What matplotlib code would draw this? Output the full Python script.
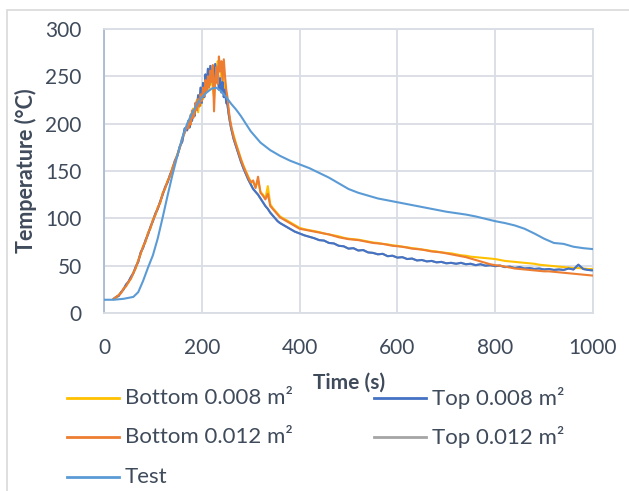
import matplotlib
matplotlib.use("Agg")
import matplotlib.pyplot as plt
from matplotlib.lines import Line2D
from matplotlib.patches import Rectangle

# ---- data -------------------------------------------------------------
# sampling times of the four probe traces (s): coarse rise, dense peak, then tail
probe_time = (list(range(20, 175, 5))
              + [172.5 + 2.5 * i for i in range(36)]
              + list(range(265, 365, 5))
              + [370, 380, 390, 400]
              + list(range(410, 1010, 10)))

bottom_008 = [15, 16, 19, 22, 25, 29, 32, 37, 43, 47, 56, 62, 71, 75, 85, 89, 99, 103, 112, 116,
              127, 131, 140, 144, 154, 159, 168, 175, 183, 192, 196,
              201, 198, 210, 205, 216, 209, 219, 225, 212, 229, 219, 236, 226, 240, 232, 244, 236, 252,
              241, 255, 236, 228, 258, 250, 266, 258, 262, 248, 258, 244, 238, 230, 222, 212, 203, 196,
              188, 179, 171, 163, 156, 150, 144, 139, 138, 133, 140, 128, 125, 121, 134, 115, 111, 108,
              105, 102,
              99, 96, 93, 90,
              88.5, 87.5, 86.5, 85.5, 84, 83, 82, 81, 79.5, 78.5,
              78, 77.5, 76.5, 75.5, 74.5, 74, 73, 72.5, 71.5, 71,
              70, 69.5, 68.5, 68, 67, 66.5, 65.5, 65, 64, 63.5,
              63, 62, 61, 60.5, 59.5, 59, 58.5, 58, 57.5, 57,
              56, 55, 54.5, 54, 53.5, 53, 52.5, 52, 51, 50.5,
              50, 49.5, 49, 48.5, 48, 47.5, 47.5, 47, 46.5, 46.5]

top_008 = [15, 17, 18, 22, 25, 30, 33, 38, 42, 49, 54, 64, 69, 77, 83, 91, 97, 105, 110, 118,
           125, 133, 138, 146, 152, 161, 166, 176, 181, 195, 193,
           203, 196, 209, 203, 214, 208, 222, 216, 230, 219, 238, 222, 243, 228, 252, 236, 258, 240,
           261, 246, 255, 238, 263, 244, 256, 236, 248, 233, 244, 228, 236, 222, 220, 210, 202, 195,
           184, 176, 168, 160, 153, 147, 141, 136, 131, 128, 125, 121, 117, 113, 110, 106, 103, 100,
           97, 95,
           92, 89, 86, 84,
           82, 80.5, 79, 77, 76.5, 74, 73.5, 71, 70.5, 68,
           68.5, 66, 66.5, 64, 63.5, 62, 62.5, 60, 60.5, 58.5,
           59, 57, 57.5, 55.5, 56, 54.5, 55, 53.5, 54, 52.5,
           53, 52, 53, 51.5, 52, 50.5, 51.5, 50, 50.5, 49.5,
           50, 48.5, 49, 47.5, 48.5, 47, 47.5, 46.5, 47, 46,
           46.5, 45.5, 46, 45.5, 47, 46, 51, 46.5, 45.5, 45]

bottom_012 = [15, 17, 19, 21, 26, 28, 33, 36, 42, 48, 55, 63, 70, 76, 84, 90, 98, 104, 111, 117,
              126, 132, 139, 145, 153, 160, 167, 174, 185, 190, 198,
              195, 204, 199, 214, 206, 211, 222, 214, 226, 218, 231, 224, 238, 229, 246, 235, 250, 238,
              256, 244, 262, 213, 248, 260, 242, 271, 255, 266, 246, 268, 250, 236, 228, 215, 205, 198,
              186, 178, 170, 162, 155, 149, 143, 138, 140, 132, 144, 127, 124, 120, 126, 113, 110, 107,
              104, 101,
              98, 95, 92, 89,
              88, 87, 86, 85, 84, 83, 81.5, 80, 79, 78,
              77.5, 77, 76, 75, 74, 73.5, 73, 72, 71, 70.5,
              70, 69, 68, 67.5, 67, 66, 65, 64.5, 64, 63,
              62, 61, 60, 59, 57.5, 56, 54.5, 53, 51.5, 50.5,
              50, 49, 48, 47, 46.5, 46, 45.5, 45, 44.5, 44,
              44, 43.5, 43, 42.5, 42, 41.5, 41, 40.5, 40, 39.5]

# the 0.012 m² top trace coincides with the 0.008 m² one
top_012 = list(top_008)

test_time = list(range(0, 300, 10)) + list(range(300, 1020, 20))
test = [14, 14, 14, 14.5, 15, 16, 17, 22, 34, 48, 61, 79, 101, 124, 146, 166, 185, 200, 211, 220,
        228, 233, 237, 238, 234, 228, 221, 215, 208, 200,
        192, 180, 172, 166, 161, 157, 153, 148, 143, 137, 131, 127, 124, 121, 119, 117,
        115, 113, 111, 109, 107, 105.5, 104, 102, 99.5, 97, 95, 92.5, 89, 84, 78.5, 74, 73, 70, 68.5, 67.5]

series_labels = ["Bottom 0.008 m²", "Top 0.008 m²", "Bottom 0.012 m²", "Top 0.012 m²", "Test"]
series_colors = ["#FFC000", "#4472C4", "#ED7D31", "#A5A5A5", "#5B9BD5"]

x_ticks = [0, 200, 400, 600, 800, 1000]
y_ticks = [0, 50, 100, 150, 200, 250, 300]

# ---- figure -----------------------------------------------------------
W, H, DPI = 629, 491, 100
plt.rcParams["font.family"] = ["Lato", "DejaVu Sans"]
TXT = "#3F4B5B"
GRID = "#D9DDE4"

fig = plt.figure(figsize=(W / DPI, H / DPI), dpi=DPI)

def px_x(x):
    return x / W

def px_y(y):
    return 1 - y / H

# outer chart-area frame
fig.patches.append(Rectangle((px_x(7), px_y(H + 20)), px_x(W + 20), (H + 10) / H,
                             transform=fig.transFigure, fill=False,
                             edgecolor="#D9D9D9", lw=1.2))

ax = fig.add_axes([px_x(104), px_y(313), px_x(593 - 104), (313 - 29) / H])
ax.set_xlim(0, 1000)
ax.set_ylim(0, 300)
ax.set_xticks(x_ticks)
ax.set_yticks(y_ticks)
ax.grid(True, color=GRID, lw=1.3, zorder=0)
ax.set_axisbelow(True)
for side in ["top", "right", "bottom"]:
    ax.spines[side].set_color(GRID)
    ax.spines[side].set_linewidth(1.3)
ax.spines["left"].set_color("#A9BAD3")
ax.spines["left"].set_linewidth(1.3)
ax.tick_params(length=0, labelsize=15, labelcolor=TXT)
ax.tick_params(axis="y", pad=16)
ax.tick_params(axis="x", pad=18)

lw = 1.5
ax.plot(probe_time, top_012, color=series_colors[3], lw=lw, zorder=2)
ax.plot(probe_time, bottom_008, color=series_colors[0], lw=lw, zorder=3)
ax.plot(probe_time, top_008, color=series_colors[1], lw=lw, zorder=4)
ax.plot(probe_time, bottom_012, color=series_colors[2], lw=lw, zorder=5)
ax.plot(test_time, test, color=series_colors[4], lw=lw, zorder=6)

fig.text(px_x(26), px_y(171), "Temperature (°C)", fontsize=15.5, fontweight="bold",
         color=TXT, rotation=90, ha="center", va="center")
fig.text(px_x(349), px_y(383), "Time (s)", fontsize=15, fontweight="bold",
         color=TXT, ha="center", va="center")

# legend below the plot: two columns, filled row by row
legend_cells = [(0, 67, 398), (1, 374, 398), (2, 67, 437), (3, 374, 437), (4, 67, 477)]
for idx, x0, yc in legend_cells:
    fig.add_artist(Line2D([px_x(x0), px_x(x0 + 52)], [px_y(yc), px_y(yc)],
                          transform=fig.transFigure, color=series_colors[idx], lw=2.0))
    fig.text(px_x(x0 + 58), px_y(yc), series_labels[idx], fontsize=16, color=TXT,
             ha="left", va="center")

fig.savefig("out.png", dpi=DPI)
